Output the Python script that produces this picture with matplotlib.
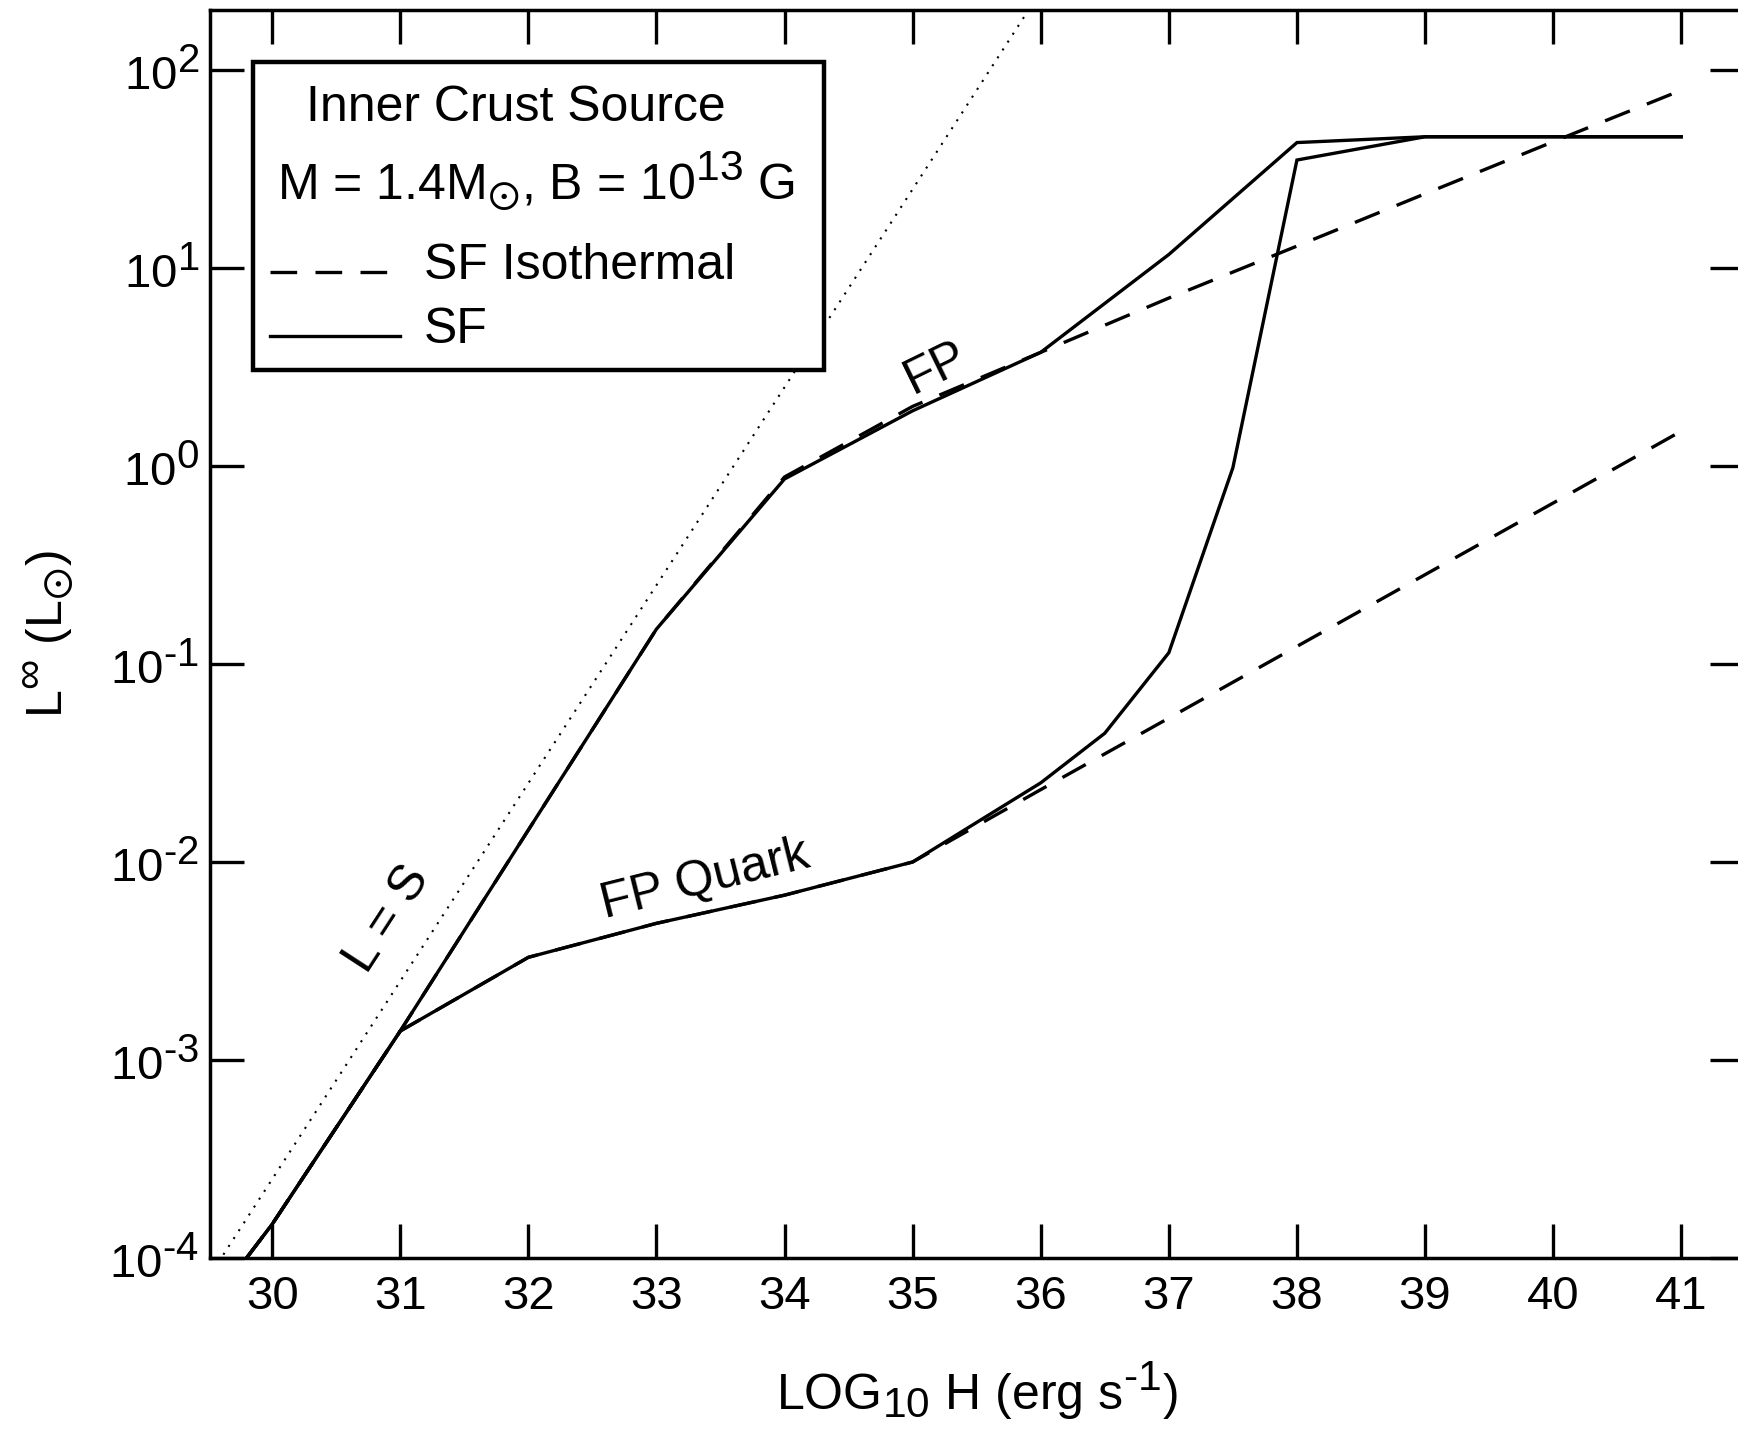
import numpy as np
import matplotlib
matplotlib.use("Agg")
import matplotlib.pyplot as plt
import matplotlib._mathtext as _mt
from matplotlib.ticker import FixedLocator, FixedFormatter, NullLocator
from matplotlib.patches import Rectangle
from matplotlib.legend_handler import HandlerLine2D

# larger sub/superscripts, as in the reference typesetting
_mt.SHRINK_FACTOR = 0.85

plt.rcParams['font.family'] = ['Liberation Sans', 'DejaVu Sans']
plt.rcParams['mathtext.fontset'] = 'custom'
plt.rcParams['mathtext.rm'] = 'Liberation Sans'
plt.rcParams['mathtext.it'] = 'Liberation Sans'
plt.rcParams['mathtext.bf'] = 'Liberation Sans:bold'
plt.rcParams['mathtext.default'] = 'regular'

# ---------------- data ----------------
# upper branch (FP)
H_fp_sf = [29.8, 30, 31, 32, 33, 34, 35, 36, 37, 38, 39, 40, 41]
L_fp_sf = [1.0e-4, 1.48e-4, 1.4e-3, 1.45e-2, 0.15, 0.86, 1.9, 3.75, 11.7, 43.0, 46.0, 46.0, 46.0]
H_fp_iso = [29.8, 30, 31, 32, 33, 34, 35, 36, 37, 38, 39, 40, 41]
L_fp_iso = [1.0e-4, 1.48e-4, 1.4e-3, 1.45e-2, 0.15, 0.88, 2.0, 3.75, 7.05, 12.9, 23.7, 43.4, 79.0]
# lower branch (FP Quark)
H_q_sf = [29.8, 30, 31, 32, 33, 34, 35, 36, 36.5, 37, 37.5, 38, 39, 40, 41]
L_q_sf = [1.0e-4, 1.48e-4, 1.4e-3, 3.3e-3, 4.9e-3, 6.8e-3, 1.0e-2, 2.51e-2, 4.47e-2, 0.114, 0.98, 35.1, 46.0, 46.0, 46.0]
H_q_iso = [29.8, 30, 31, 32, 33, 34, 35, 36, 37, 38, 39, 40, 41]
L_q_iso = [1.0e-4, 1.48e-4, 1.4e-3, 3.3e-3, 4.9e-3, 6.8e-3, 1.0e-2, 2.32e-2, 5.33e-2, 0.1227, 0.2825, 0.650, 1.50]
# L = S reference line
H_ls = [29.5, 36.0]
L_ls = [7.9e-5, 2.5e2]

x_ticks = [30, 31, 32, 33, 34, 35, 36, 37, 38, 39, 40, 41]
y_ticks = [1e-4, 1e-3, 1e-2, 1e-1, 1e0, 1e1, 1e2]
y_ticklabels = ['$10^{\\text{-}4}$', '$10^{\\text{-}3}$', '$10^{\\text{-}2}$', '$10^{\\text{-}1}$',
                '$10^{0}$', '$10^{1}$', '$10^{2}$']

# ---------------- figure ----------------
W, Hh = 1738, 1429
fig = plt.figure(figsize=(W / 100, Hh / 100), dpi=100)
L_px, R_px, T_px, B_px = 210, 1744, 10, 1258
ax = fig.add_axes([L_px / W, 1 - B_px / Hh, (R_px - L_px) / W, (B_px - T_px) / Hh])


def axx(px):
    return (px - L_px) / (R_px - L_px)


def axy(py):
    return (B_px - py) / (B_px - T_px)


lw = 2.4
dash = (0, (8, 5.5))
ax.plot(H_ls, L_ls, color='black', lw=1.5, linestyle=(0, (1, 3.5)))
iso1, = ax.plot(H_fp_iso, L_fp_iso, color='black', lw=lw, linestyle=dash)
ax.plot(H_q_iso, L_q_iso, color='black', lw=lw, linestyle=dash)
sf1, = ax.plot(H_fp_sf, L_fp_sf, color='black', lw=lw, solid_joinstyle='miter')
ax.plot(H_q_sf, L_q_sf, color='black', lw=lw, solid_joinstyle='miter')

ax.set_yscale('log')
ax.set_xlim(29.515, 41.49)
ax.set_ylim(1e-4, 10 ** 2.303)

ax.xaxis.set_major_locator(FixedLocator(x_ticks))
ax.yaxis.set_major_locator(FixedLocator(y_ticks))
ax.yaxis.set_major_formatter(FixedFormatter(y_ticklabels))
ax.yaxis.set_minor_locator(NullLocator())
ax.xaxis.set_minor_locator(NullLocator())

ax.tick_params(axis='both', which='major', direction='in', length=24.5, width=2.4,
               labelsize=34, top=True, right=True)
ax.tick_params(axis='x', pad=12)
ax.tick_params(axis='y', pad=8)
for s in ax.spines.values():
    s.set_linewidth(2.5)

ax.set_xlabel('LOG$_{10}$ H (erg s$^{\\text{-}1}$)', fontsize=36, labelpad=29)
ax.set_ylabel('L$^{\\infty}$ (L$_{\\odot}$)', fontsize=36, labelpad=25)

ax.text(35.18, 3.13, 'FP', rotation=26, ha='center', va='center',
        rotation_mode='anchor', fontsize=36)
ax.text(33.38, 10 ** -2.089, 'FP Quark', rotation=14, ha='center', va='center',
        rotation_mode='anchor', fontsize=36)
ax.text(30.9, 10 ** -2.289, 'L = S', rotation=57, ha='center', va='center',
        rotation_mode='anchor', fontsize=36)


# ---------------- legend block ----------------
class LowLineHandler(HandlerLine2D):
    """Legend sample drawn a little closer to the text baseline."""

    def create_artists(self, legend, orig_handle, xdescent, ydescent, width, height,
                       fontsize, trans):
        artists = super().create_artists(legend, orig_handle, xdescent, ydescent, width,
                                          height, fontsize, trans)
        for a in artists:
            a.set_ydata(np.asarray(a.get_ydata()) - 0.21 * fontsize)
        return artists


box = Rectangle((axx(252.6), axy(370)), axx(823.8) - axx(252.6), axy(62.3) - axy(370),
                transform=ax.transAxes, facecolor='white', edgecolor='black',
                linewidth=3.2, zorder=4)
ax.add_patch(box)
ax.text(axx(515.5), axy(120.7), 'Inner Crust Source', transform=ax.transAxes,
        ha='center', va='baseline', fontsize=36, zorder=5)
ax.text(axx(277), axy(200), 'M = 1.4M$_{\\odot}$, B = 10$^{13}$ G', transform=ax.transAxes,
        ha='left', va='baseline', fontsize=36, zorder=5)
leg = ax.legend([iso1, sf1], ['SF Isothermal', 'SF'],
                handler_map={iso1: LowLineHandler(), sf1: LowLineHandler()},
                loc='upper left', bbox_to_anchor=(axx(270), axy(243)), bbox_transform=ax.transAxes,
                fontsize=36, frameon=False, borderpad=0, handlelength=2.6, handletextpad=0.48,
                labelspacing=0.36, borderaxespad=0)
leg.set_zorder(6)

fig.savefig('out.png', dpi=100)
